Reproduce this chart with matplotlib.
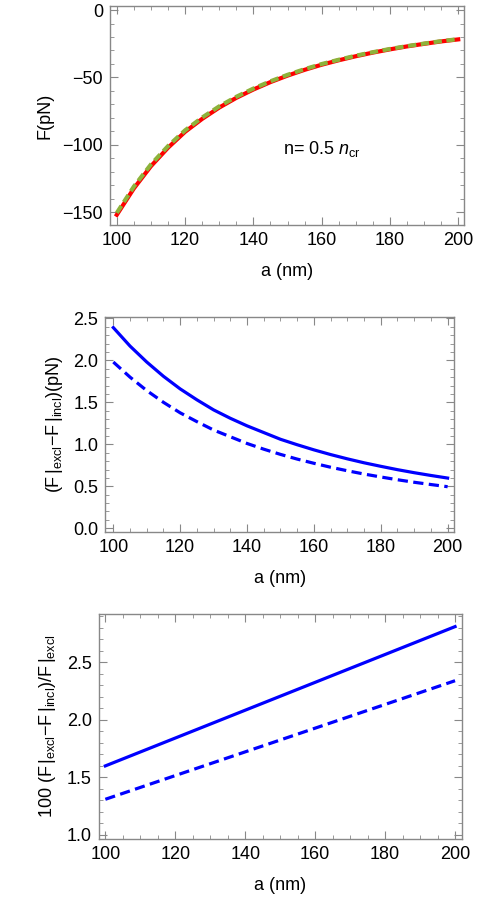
import numpy as np
import matplotlib.pyplot as plt
from matplotlib.ticker import MultipleLocator

plt.rcParams['font.family'] = ['Liberation Sans', 'DejaVu Sans']
plt.rcParams['mathtext.fontset'] = 'custom'
plt.rcParams['mathtext.rm'] = 'Liberation Sans'
plt.rcParams['mathtext.it'] = 'Liberation Sans:italic'

# ------------------------- data -------------------------
a_nm = [100, 105, 110, 115, 120, 125, 130, 135, 140, 145, 150,
        155, 160, 165, 170, 175, 180, 185, 190, 195, 200]

# top panel: force (pN); red curve, blue just under it, green dashed just above
F_red = [-152.0, -132.4, -115.9, -102.2, -90.4, -80.8, -72.4, -65.2, -59.0, -53.5, -48.7,
         -44.4, -40.6, -37.3, -34.3, -31.6, -29.2, -27.0, -25.1, -23.3, -21.8]
F_blue = [-152.6, -132.9, -116.4, -102.6, -90.8, -81.2, -72.7, -65.5, -59.3, -53.8, -48.9,
          -44.6, -40.8, -37.5, -34.5, -31.8, -29.4, -27.2, -25.2, -23.4, -21.9]
F_green = [-150.6, -131.0, -114.6, -101.0, -89.3, -79.8, -71.5, -64.4, -58.3, -52.9, -48.1,
           -43.9, -40.1, -36.9, -33.9, -31.3, -28.9, -26.8, -24.9, -23.1, -21.6]

# middle panel: (F|excl - F|incl) in pN
dF_solid = [2.39, 2.17, 1.98, 1.81, 1.66, 1.53, 1.41, 1.31, 1.22, 1.14, 1.06,
            0.995, 0.934, 0.878, 0.827, 0.780, 0.738, 0.698, 0.662, 0.629, 0.598]
dF_dashed = [1.98, 1.80, 1.64, 1.50, 1.375, 1.27, 1.17, 1.09, 1.01, 0.942, 0.880,
             0.824, 0.774, 0.727, 0.685, 0.646, 0.611, 0.578, 0.548, 0.521, 0.495]

# bottom panel: relative difference in percent (straight lines)
a_lin = [100, 200]
rel_solid = [1.60, 2.81]
rel_dashed = [1.31, 2.34]

frame_col = '#888888'


def style_axes(ax, ymajor, yminor):
    ax.xaxis.set_major_locator(MultipleLocator(20))
    ax.xaxis.set_minor_locator(MultipleLocator(5))
    ax.yaxis.set_major_locator(MultipleLocator(ymajor))
    ax.yaxis.set_minor_locator(MultipleLocator(yminor))
    ax.tick_params(which='both', direction='in', top=True, right=True,
                   color=frame_col, labelsize=13, pad=5)
    ax.tick_params(which='major', length=6, width=0.8)
    ax.tick_params(which='minor', length=3, width=0.6)
    for s in ax.spines.values():
        s.set_color(frame_col)
        s.set_linewidth(1.0)
    ax.set_xlabel('a (nm)', fontsize=13, labelpad=10)


fig = plt.figure(figsize=(5.03, 9.0), dpi=100)

# ------------------------- top -------------------------
ax1 = fig.add_axes([110 / 503, 1 - 225 / 900, 354 / 503, 219 / 900])
ax1.plot(a_nm, F_blue, color='#3333ff', lw=1.5)
ax1.plot(a_nm, F_red, color='#ff0000', lw=3.0)
ax1.plot(a_nm, F_green, color='#8db33a', lw=3.0, ls=(0, (2.0, 1.1)))
ax1.set_xlim(98, 201.7)
ax1.set_ylim(-159.6, 3)
style_axes(ax1, 50, 10)
ax1.yaxis.set_major_formatter(plt.FuncFormatter(lambda v, p: f'{v:.0f}'.replace('-', '\u2212')))
ax1.set_ylabel('F(pN)', fontsize=13, labelpad=6)
ax1.text(0.488, 0.325, r'n= 0.5 $n_{\mathrm{cr}}$', transform=ax1.transAxes, fontsize=13)

# ------------------------- middle -------------------------
ax2 = fig.add_axes([105.3 / 503, 1 - 532.3 / 900, 349 / 503, 215.6 / 900])
ax2.plot(a_nm, dF_solid, color='#0000ff', lw=2.3)
ax2.plot(a_nm, dF_dashed, color='#0000ff', lw=2.3, ls=(0, (3.2, 1.7)))
ax2.set_xlim(97.6, 202)
ax2.set_ylim(-0.048, 2.52)
style_axes(ax2, 0.5, 0.1)
ax2.yaxis.set_major_formatter(plt.FuncFormatter(lambda v, p: f'{v:.1f}'))
ax2.set_ylabel(r'(F$\,|_{\mathrm{excl}}$$-$F$\,|_{\mathrm{incl}}$)(pN)', fontsize=13, labelpad=6)

# ------------------------- bottom -------------------------
ax3 = fig.add_axes([98.7 / 503, 1 - 839 / 900, 363 / 503, 224.7 / 900])
ax3.plot(a_lin, rel_solid, color='#0000ff', lw=2.3)
ax3.plot(a_lin, rel_dashed, color='#0000ff', lw=2.3, ls=(0, (3.2, 1.7)))
ax3.set_xlim(98.1, 201.9)
ax3.set_ylim(0.965, 2.917)
style_axes(ax3, 0.5, 0.1)
ax3.yaxis.set_major_formatter(plt.FuncFormatter(lambda v, p: f'{v:.1f}'))
ax3.set_ylabel(r'100 (F$\,|_{\mathrm{excl}}$$-$F$\,|_{\mathrm{incl}}$)/F$\,|_{\mathrm{excl}}$',
               fontsize=13, labelpad=6)

fig.savefig('out.png', dpi=100)
